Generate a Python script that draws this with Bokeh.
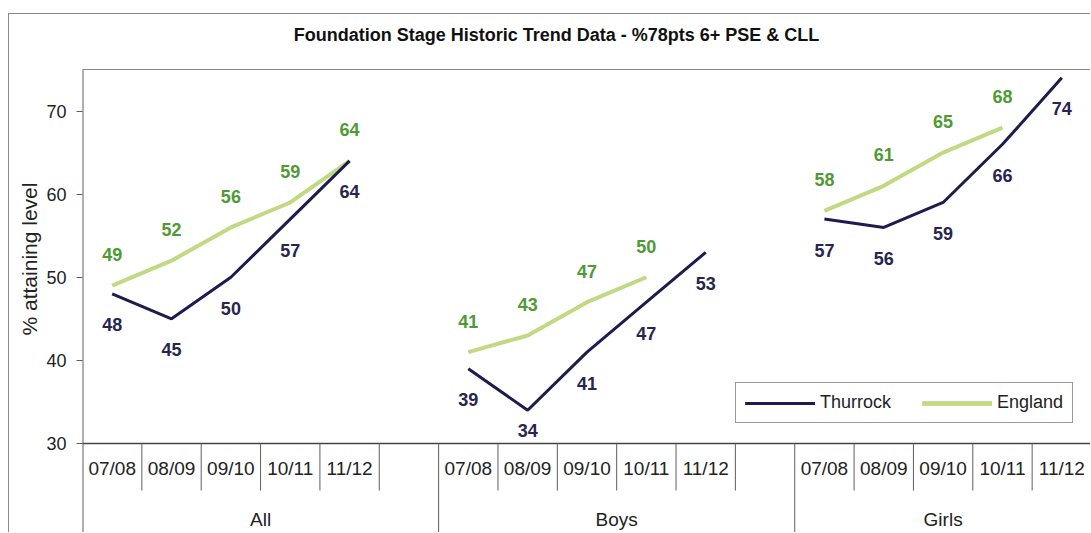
from bokeh.plotting import figure
from bokeh.models import Range1d, FixedTicker, Legend, LegendItem, Title
from bokeh.core.properties import value
from bokeh.embed import file_html
from bokeh.resources import INLINE

# ---------------- data ----------------
chart_title = "Foundation Stage Historic Trend Data - %78pts 6+ PSE & CLL"
y_axis_title = "% attaining level"
groups = ["All", "Boys", "Girls"]
group_slots = [6, 6, 5]          # All and Boys have a trailing empty cell
years = ["07/08", "08/09", "09/10", "10/11", "11/12"]

thurrock_all = [48, 45, 50, 57, 64]
thurrock_boys = [39, 34, 41, 47, 53]
thurrock_girls = [57, 56, 59, 66, 74]
england_all = [49, 52, 56, 59, 64]
england_boys = [41, 43, 47, 50]
england_girls = [58, 61, 65, 68]

y_ticks = [30, 40, 50, 60, 70]

# ---------------- styles ----------------
FONT = "Liberation Sans"
NAVY = "#1e1b4e"
NAVY_TXT = "#27264f"
GREEN = "#c0d982"
GREEN_TXT = "#4f9a34"
LINE_GREY = "#5e5e5e"
EDGE_GREY = "#8a8a8a"
TXT = "#222222"

Y_TOP, Y_MIN = 75, 30            # plot-area value span
PX_PER_UNIT = (443 - 69) / 45.0
W, H = 1082, 519
MB_LEFT = 73
HEAD_PX = 55                     # title band above the plot area (inside the frame)
R_TOP = Y_TOP + HEAD_PX / PX_PER_UNIT
R_BOTTOM = Y_TOP - (H - HEAD_PX) / PX_PER_UNIT
N_SLOTS = sum(group_slots)
SLOT_PX = (W - MB_LEFT) / N_SLOTS

p = figure(width=W, height=H, output_backend="svg", toolbar_location=None,
           x_range=Range1d(0, N_SLOTS), y_range=Range1d(R_BOTTOM, R_TOP),
           x_axis_location=None, min_border_left=MB_LEFT, min_border_right=0,
           min_border_top=0, min_border_bottom=0)
p.styles = {"border-left": "1px solid #8a8a8a", "border-top": "1px solid #8a8a8a",
            "margin-top": "13px", "margin-left": "8px"}
p.outline_line_color = None
p.xgrid.visible = False
p.ygrid.visible = False
p.background_fill_color = "white"
p.border_fill_color = "white"

# chart title (drawn inside the frame's head band)
p.text(x=[(556 - 82) / SLOT_PX], y=[R_TOP - 20 / PX_PER_UNIT], text=[chart_title],
       text_font=value(FONT), text_font_size="18px", text_font_style="bold",
       text_color="#111111", text_align="center", text_baseline="middle")

# y axis
ax = p.yaxis[0]
ax.ticker = FixedTicker(ticks=y_ticks)
ax.major_label_text_font = FONT
ax.major_label_text_font_size = "18px"
ax.major_label_text_color = TXT
ax.major_label_standoff = 10
ax.major_tick_out = 6
ax.major_tick_in = 0
ax.minor_tick_line_color = None
ax.axis_line_color = None
ax.major_tick_line_color = LINE_GREY

ytitle = Title(text=y_axis_title, align="left", offset=198, text_font=FONT,
               text_font_size="21px", text_font_style="normal", text_color=TXT,
               standoff=6)
p.add_layout(ytitle, "left")

# plot-area edges and category "table"
p.segment(x0=[0], y0=[R_BOTTOM], x1=[0], y1=[Y_TOP], line_color=LINE_GREY, line_width=2)
p.segment(x0=[0], y0=[Y_TOP], x1=[N_SLOTS], y1=[Y_TOP], line_color=EDGE_GREY, line_width=1.2)
p.segment(x0=[N_SLOTS], y0=[R_BOTTOM], x1=[N_SLOTS], y1=[Y_TOP], line_color=EDGE_GREY, line_width=2)
p.segment(x0=[0], y0=[Y_MIN], x1=[N_SLOTS], y1=[Y_MIN], line_color="#444444", line_width=1.3)

starts = []
s = 0
for n in group_slots:
    starts.append(s)
    s += n

sep_bottom = Y_MIN - 47 / PX_PER_UNIT
sx, gx = [], []
for st, n in zip(starts, group_slots):
    sx += [st + k for k in range(1, n)]
    if st > 0:
        gx.append(st)
p.segment(x0=sx, y0=[Y_MIN] * len(sx), x1=sx, y1=[sep_bottom] * len(sx),
          line_color=LINE_GREY, line_width=1)
p.segment(x0=gx, y0=[Y_MIN] * len(gx), x1=gx, y1=[R_BOTTOM] * len(gx),
          line_color=LINE_GREY, line_width=1)

year_x, year_t = [], []
for st in starts:
    for k, yr in enumerate(years):
        year_x.append(st + k + 0.5)
        year_t.append(yr)
p.text(x=year_x, y=[Y_MIN - 25 / PX_PER_UNIT] * len(year_x), text=year_t,
       text_font=value(FONT), text_font_size="19px", text_color=TXT,
       text_align="center", text_baseline="middle")
p.text(x=[st + n / 2 for st, n in zip(starts, group_slots)],
       y=[Y_MIN - 76 / PX_PER_UNIT] * 3, text=groups,
       text_font=value(FONT), text_font_size="19px", text_color=TXT,
       text_align="center", text_baseline="middle")

# series
thurrock = [thurrock_all, thurrock_boys, thurrock_girls]
england = [england_all, england_boys, england_girls]
t_rend, e_rend = [], []
lab_off = 31 / PX_PER_UNIT
lab_floor = Y_MIN + 13 / PX_PER_UNIT   # labels kept inside the plot area
for st, tv, ev in zip(starts, thurrock, england):
    ex = [st + k + 0.5 for k in range(len(ev))]
    tx = [st + k + 0.5 for k in range(len(tv))]
    e_rend.append(p.line(ex, ev, line_color=GREEN, line_width=4))
    t_rend.append(p.line(tx, tv, line_color=NAVY, line_width=3))
    p.text(x=ex, y=[v + lab_off for v in ev], text=[str(v) for v in ev],
           text_font=value(FONT), text_font_style="bold", text_font_size="18px",
           text_color=GREEN_TXT, text_align="center", text_baseline="middle")
    p.text(x=tx, y=[max(v - lab_off, lab_floor) for v in tv], text=[str(v) for v in tv],
           text_font=value(FONT), text_font_style="bold", text_font_size="18px",
           text_color=NAVY_TXT, text_align="center", text_baseline="middle")

legend = Legend(items=[LegendItem(label="Thurrock", renderers=t_rend),
                       LegendItem(label="England", renderers=e_rend)],
                orientation="horizontal", location=(653, 110))
legend.label_text_font = FONT
legend.label_text_font_size = "18px"
legend.label_text_color = TXT
legend.glyph_width = 70
legend.label_standoff = 5
legend.spacing = 31
legend.padding = 9
legend.margin = 0
legend.border_line_color = "#333333"
legend.border_line_width = 1.2
legend.background_fill_alpha = 1
p.add_layout(legend, "center")

open("out.html", "w").write(file_html(p, INLINE))
